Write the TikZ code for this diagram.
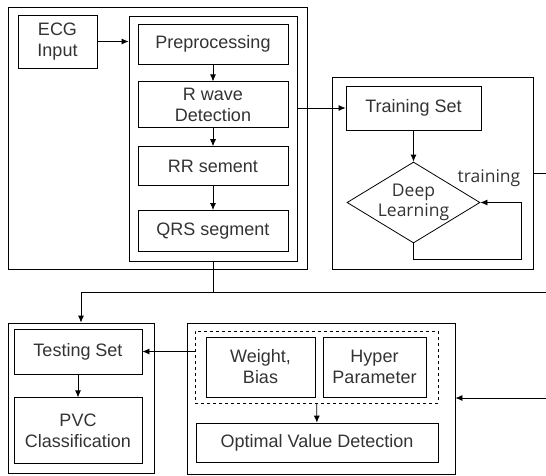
\documentclass[tikz,border=0pt]{standalone}
\usepackage{fontspec}
\setmainfont{Liberation Sans}
\newfontfamily\segfont{Open Sans}
\usetikzlibrary{shapes, arrows, arrows.meta, positioning}

\begin{document}
\begin{tikzpicture}[x=1pt,y=-1pt,->,>={Latex[length=7pt,width=6pt]},line width=0.8pt,node distance=17pt,font=\fontsize{18}{21}\selectfont]
	\tikzset{box/.style={draw,rectangle,align=center,inner sep=0pt,text=black!80}}
	\tikzset{frame/.style={draw,rectangle,inner sep=0pt}}
	\tikzset{dtext/.style={font=\segfont\fontsize{17.5}{20}\selectfont,text=black!80,align=center,inner sep=0pt}}
	\useasboundingbox (0,0) rectangle (546,475);
	\node[frame,minimum width=299pt,minimum height=262pt] (acq) at (157.5,138) {};
	\node[box,minimum width=79pt,minimum height=53pt] (ecg) at (57.5,41.5) {ECG\\Input};
	\node[frame,minimum width=168pt,minimum height=245pt] (inner) at (213,138.5) {};
	\node[box,minimum width=150pt,minimum height=40pt] (pre) at (213,44) {Preprocessing};
	\node[box,minimum width=150pt,minimum height=46pt] (rwave) [below=17pt of pre] {R wave\\Detection};
	\node[box,minimum width=150pt,minimum height=39pt] (rr) [below=18pt of rwave] {RR sement};
	\node[box,minimum width=150pt,minimum height=41pt] (qrs) [below=24pt of rr] {QRS segment};
	\node[frame,minimum width=201pt,minimum height=192pt] (trn) at (432.5,173) {};
	\node[box,minimum width=135pt,minimum height=44pt] (tset) at (413.5,108) {Training Set};
	\node[draw,diamond,inner sep=0pt,minimum width=133pt,minimum height=81pt,
		label={[dtext]center:Deep\\Learning}] (dl) at (413.5,202.5) {};
	\node[dtext] (trlbl) at (489,178) {training};
	\node[frame,minimum width=146pt,minimum height=150pt] (testo) at (81,398) {};
	\node[box,minimum width=128pt,minimum height=45pt] (testset) at (78,351.5) {Testing Set};
	\node[box,minimum width=128pt,minimum height=66pt] (pvc) [below=23pt of testset] {PVC\\Classification};
	\node[frame,minimum width=268pt,minimum height=151pt] (opto) at (321,398.5) {};
	\node[frame,dashed,minimum width=243pt,minimum height=72pt] (dash) at (316.5,367) {};
	\node[box,minimum width=109pt,minimum height=60pt] (wb) at (260.5,367) {Weight,\\Bias};
	\node[box,minimum width=103pt,minimum height=60pt] (hyper) at (374.5,367) {Hyper\\Parameter};
	\node[box,minimum width=242pt,minimum height=39pt] (opt) at (317,442.5) {Optimal Value Detection};
	\coordinate (loop) at (521,259);
	\coordinate (e1) at (546,173);
	\coordinate (e2) at (546,292);
	\coordinate (e3) at (546,398);
	\draw (ecg.east) -- (ecg.east -| inner.west);
	\draw (pre) -- (rwave);
	\draw (rwave) -- (rr);
	\draw (rr) -- (qrs);
	\draw (tset.west -| inner.east) -- (tset.west);
	\draw (tset) -- (dl);
	\draw (dl.south) |- (loop) |- (dl.east);
	\draw[-] (e1 -| trn.east) -- (e1);
	\draw[-] (inner.south) -- (inner.south |- e2);
	\draw (e2) -| (testo.north);
	\draw (e3) -- (e3 -| opto.east);
	\draw (dash.west |- testset.east) -- (testset.east);
	\draw (testset) -- (pvc);
	\draw (dash) -- (opt);
\end{tikzpicture}
\end{document}
